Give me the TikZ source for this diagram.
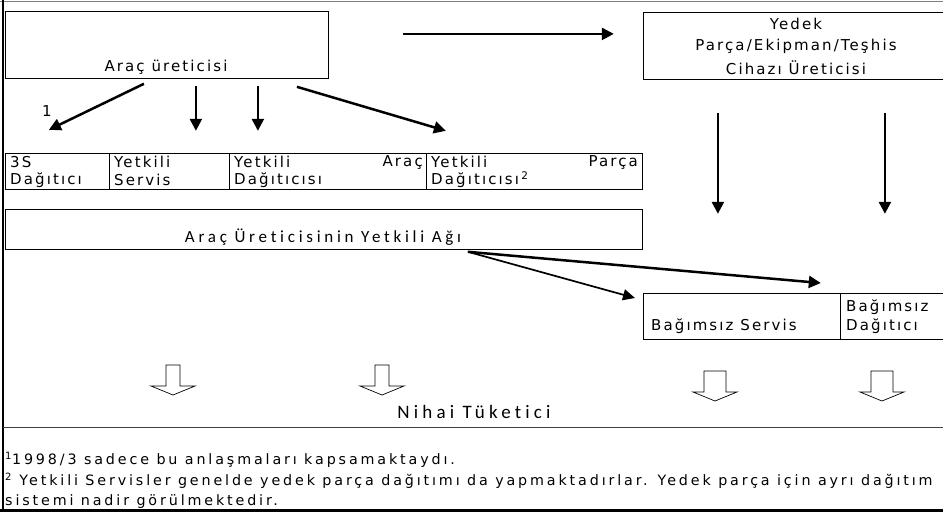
\documentclass[tikz,border=0pt]{standalone}
\usepackage{fontspec}
\setmainfont{DejaVu Sans}[LetterSpace=14]
\newfontfamily\notfont{DejaVu Sans}[LetterSpace=20]
\newfontfamily\calfont{Carlito}[LetterSpace=22,Ligatures={NoCommon}]
\usetikzlibrary{arrows.meta}
\begin{document}
\begin{tikzpicture}
	[x=1pt,y=-1pt,
	kutu/.style={draw,line width=0.8pt,inner sep=0pt,anchor=north west},
	yazi/.style={inner sep=0pt,font=\fontsize{15}{18}\selectfont},
	solyazi/.style={yazi,anchor=west},
	notyazi/.style={inner sep=0pt,anchor=west,font=\notfont\fontsize{14.3}{17}\selectfont},
	ok/.style={line width=2.5pt,-{Triangle[length=12pt,width=12pt]}},
	inceok/.style={line width=1.7pt,-{Triangle[length=12pt,width=11pt]}},
	bosok/.style={draw,line width=0.7pt,fill=white}]
	\useasboundingbox (0,0) rectangle (943,515);
	% cerceve
	\draw[gray,line width=1pt] (0,1) -- (943,1);
	\draw[line width=2pt] (3,0) -- (3,511);
	\draw[darkgray,line width=1pt] (3,427) -- (943,427);
	\draw[line width=2.5pt] (0,510.5) -- (943,510.5);
	% ust kutular
	\node[kutu,minimum width=323pt,minimum height=67pt] (uretici) at (5,11) {};
	\node[yazi] (uy) at (166,67) {Araç üreticisi};
	\node[kutu,minimum width=305pt,minimum height=67pt] (yedek) at (643,12) {};
	\node[yazi] (y1) at (796,24) {Yedek};
	\node[yazi] (y2) at (796,46) {Parça/Ekipman/Teşhis};
	\node[yazi] (y3) at (796,68) {Cihazı Üreticisi};
	% yetkili kanal
	\node[kutu,minimum width=104pt,minimum height=36pt] (ucs) at (5,153) {};
	\node[kutu,minimum width=120pt,minimum height=36pt] (servis) at (109,153) {};
	\node[kutu,minimum width=197pt,minimum height=36pt] (arac) at (229,153) {};
	\node[kutu,minimum width=216pt,minimum height=36pt] (parca) at (426,153) {};
	\node[solyazi] (t1) at (10,162) {3S};
	\node[solyazi] (t2) at (10,180) {Dağıtıcı};
	\node[solyazi] (t3) at (114,162) {Yetkili};
	\node[solyazi] (t4) at (114,180) {Servis};
	\node[solyazi] (t5) at (234,162) {Yetkili};
	\node[yazi,anchor=east] (t6) at (423,162) {Araç};
	\node[solyazi] (t7) at (234,180) {Dağıtıcısı};
	\node[solyazi] (t8) at (431,162) {Yetkili};
	\node[yazi,anchor=east] (t9) at (638,162) {Parça};
	\node[solyazi] (t10) at (431,180) {Dağıtıcısı\,\textsuperscript{2}};
	\node[kutu,minimum width=637pt,minimum height=40pt] (ag) at (5,209) {};
	\node[inner sep=0pt,font=\calfont\fontsize{17}{20}\selectfont] (agy) at (323,237) {Araç Üreticisinin Yetkili Ağı};
	% bagimsiz kanal
	\node[kutu,minimum width=197pt,minimum height=46pt] (bservis) at (643,293) {};
	\node[kutu,minimum width=108pt,minimum height=46pt] (bdag) at (840,293) {};
	\node[solyazi] (b1) at (651,326) {Bağımsız Servis};
	\node[solyazi] (b2) at (846,307) {Bağımsız};
	\node[solyazi] (b3) at (846,326) {Dağıtıcı};
	% oklar
	\draw[ok] ([shift={(74,-11)}]uretici.east) -- ++(211,0);
	\draw[ok] ([shift={(-23,5)}]uretici.south) -- ++(-95,46);
	\node[yazi] (bir) at (47,111) {1};
	\draw[ok] ([shift={(29,7)}]uretici.south) -- ++(0,45);
	\draw[ok] ([shift={(91,7)}]uretici.south) -- ++(0,45);
	\draw[ok] ([shift={(130,8)}]uretici.south) -- ++(149,44);
	\draw[ok] ([shift={(-78,33)}]yedek.south) -- ++(0,101);
	\draw[ok] ([shift={(89,33)}]yedek.south) -- ++(0,101);
	\draw[ok] ([shift={(144,2)}]ag.south) -- ([shift={(-20,-10)}]bservis.north east);
	\draw[inceok] ([shift={(144,2)}]ag.south) -- ([shift={(-8,5)}]bservis.north west);
	% nihai tuketici
	\foreach \x/\s/\t in {173/7/365, 382/7/365, 715/11/371, 882/11/371}
	{
		\draw[bosok] (\x-\s,\t) -- (\x+\s,\t) -- (\x+\s,\t+21) -- (\x+22,\t+21)
			-- (\x,\t+30) -- (\x-22,\t+21) -- (\x-\s,\t+21) -- cycle;
	}
	\node[inner sep=0pt,font=\calfont\fontsize{19}{21}\selectfont] (nihai) at (474,412) {Nihai Tüketici};
	% dipnotlar
	\node[notyazi] (n1) at (5,460) {\textsuperscript{1}1998/3 sadece bu anlaşmaları kapsamaktaydı.};
	\node[notyazi] (n2) at (5,481) {\textsuperscript{2} Yetkili Servisler genelde yedek parça dağıtımı da yapmaktadırlar. Yedek parça için ayrı dağıtım};
	\node[notyazi] (n3) at (5,502) {sistemi nadir görülmektedir.};
\end{tikzpicture}
\end{document}
